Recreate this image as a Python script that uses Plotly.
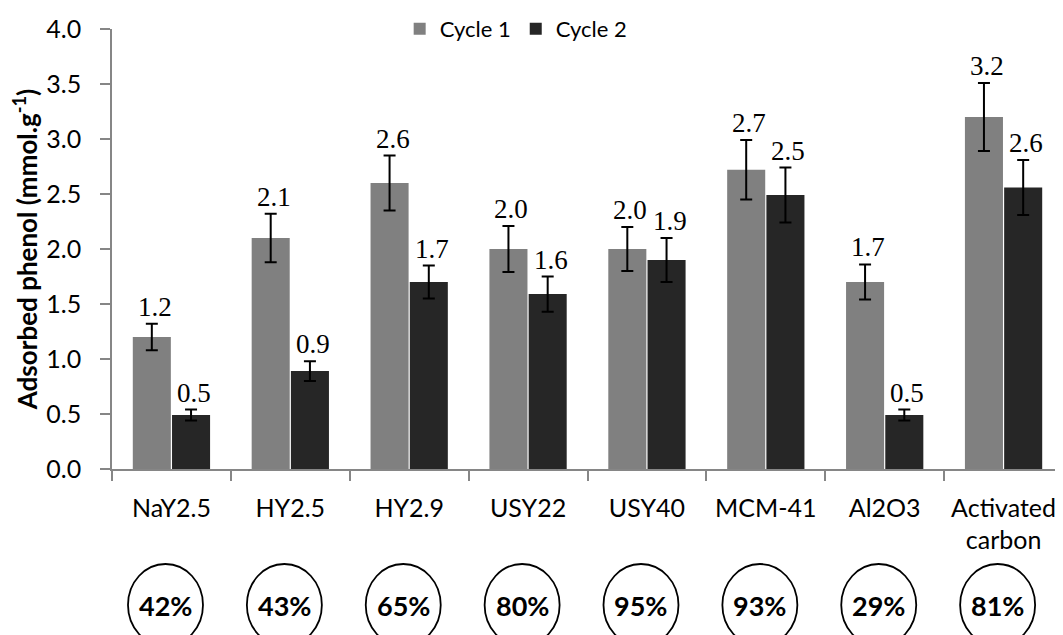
import plotly.graph_objects as go

categories = ["NaY2.5", "HY2.5", "HY2.9", "USY22", "USY40", "MCM-41", "Al2O3", "Activated<br>carbon"]
cycle1 = [1.2, 2.1, 2.6, 2.0, 2.0, 2.72, 1.7, 3.2]
cycle2 = [0.49, 0.89, 1.7, 1.59, 1.9, 2.49, 0.49, 2.56]
err1 = [0.12, 0.22, 0.25, 0.21, 0.2, 0.27, 0.16, 0.31]
err2 = [0.05, 0.09, 0.15, 0.16, 0.2, 0.25, 0.05, 0.25]
labels1 = ["1.2", "2.1", "2.6", "2.0", "2.0", "2.7", "1.7", "3.2"]
labels2 = ["0.5", "0.9", "1.7", "1.6", "1.9", "2.5", "0.5", "2.6"]
retention = ["42%", "43%", "65%", "80%", "95%", "93%", "29%", "81%"]

# page body has an 8px margin, so the figure is sized to fit the window
W, H = 1055, 627
ML, MR, MT, MB = 104, 0, 21, 166
BARGAP = 0.34
SANS = "Lato, sans-serif"
SERIF = "Liberation Serif, Times New Roman, serif"
C1, C2 = "#808080", "#262626"
AXC = "#868686"

fig = go.Figure()
fig.add_trace(go.Bar(
    name="Cycle 1", x=categories, y=cycle1, marker=dict(color=C1, line=dict(width=0)),
    error_y=dict(type="data", array=err1, color="black", thickness=2, width=6),
))
fig.add_trace(go.Bar(
    name="Cycle 2", x=categories, y=cycle2, marker=dict(color=C2, line=dict(width=0)),
    error_y=dict(type="data", array=err2, color="black", thickness=2, width=6),
))

plot_w = W - ML - MR
cat_w = plot_w / len(categories)
shift = cat_w * (1 - BARGAP) / 4

annotations = []
for i, c in enumerate(categories):
    annotations.append(dict(x=c, y=cycle1[i] + err1[i], xref="x", yref="y", text=labels1[i],
                            showarrow=False, yanchor="bottom", xshift=-shift + 3, yshift=0,
                            font=dict(family=SERIF, size=27, color="black")))
    annotations.append(dict(x=c, y=cycle2[i] + err2[i], xref="x", yref="y", text=labels2[i],
                            showarrow=False, yanchor="bottom", xshift=shift + 3, yshift=0,
                            font=dict(family=SERIF, size=27, color="black")))

shapes = []
plot_h = H - MT - MB
rx = 37.5 / cat_w
cy = -136 / plot_h
ry = 41 / plot_h
for i, r in enumerate(retention):
    shapes.append(dict(type="circle", xref="x", yref="paper",
                       x0=i - rx - 0.05, x1=i + rx - 0.05, y0=cy - ry, y1=cy + ry,
                       line=dict(color="black", width=1.8)))
    annotations.append(dict(x=i - 0.05, y=cy, xref="x", yref="paper", text="<b>" + r + "</b>",
                            xanchor="center", yanchor="middle",
                            showarrow=False, font=dict(family=SANS, size=27, color="black")))

fig.update_layout(
    width=W, height=H,
    margin=dict(l=ML, r=MR, t=MT, b=MB, autoexpand=False),
    paper_bgcolor="white", plot_bgcolor="white",
    barmode="group", bargap=BARGAP, bargroupgap=0.03,
    showlegend=True,
    legend=dict(orientation="h", x=0.425, xanchor="center", y=1.0, yanchor="middle",
                font=dict(family=SANS, size=22, color="black"), bgcolor="rgba(0,0,0,0)",
                traceorder="normal", itemwidth=30),
    xaxis=dict(showline=True, linecolor=AXC, linewidth=1.5, ticks="outside", tickson="boundaries",
               ticklen=10, tickcolor=AXC, tickwidth=1.5, showgrid=False, automargin=False,
               tickfont=dict(family=SANS, size=25, color="black"), ticklabelstandoff=16),
    yaxis=dict(range=[0, 4], dtick=0.5, tickformat=".1f", showline=True, linecolor=AXC, linewidth=1.5,
               ticks="outside", ticklen=10, tickcolor=AXC, tickwidth=1.5, showgrid=False, zeroline=False,
               automargin=False,
               tickfont=dict(family=SANS, size=25, color="black"), ticklabelstandoff=14,
               title=dict(text="<b>Adsorbed phenol (mmol.g<sup>-1</sup>)</b>",
                          font=dict(family=SANS, size=26, color="black"), standoff=4)),
    annotations=annotations, shapes=shapes,
)

fig.write_html("out.html")
